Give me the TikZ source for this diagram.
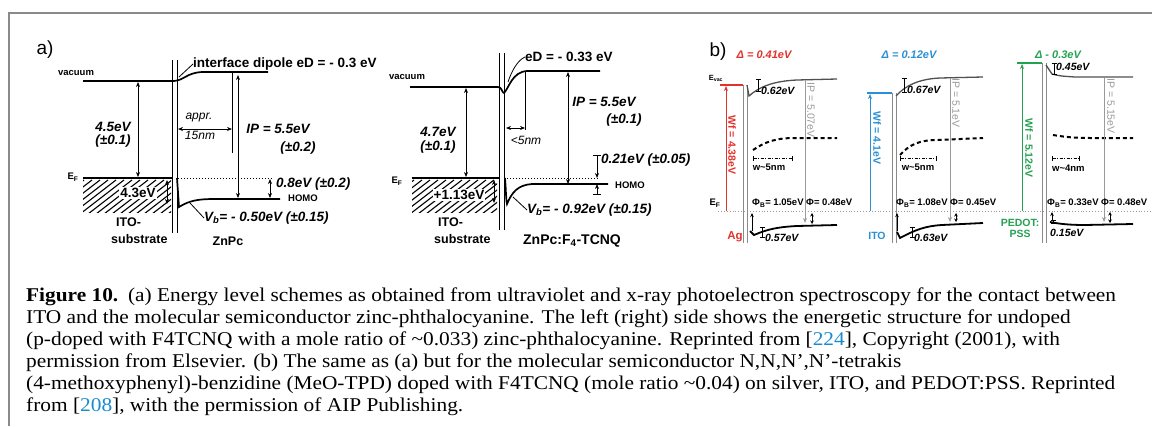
\documentclass[tikz,border=0pt]{standalone}
\usepackage{fontspec}
\setmainfont{Liberation Serif}
\setsansfont{Liberation Sans}
\newfontfamily\capfont[FakeStretch=1.095]{Liberation Serif}
\usepackage{tikz}
\usetikzlibrary{arrows.meta}
\definecolor{agred}{HTML}{E2322B}
\definecolor{itoblue}{HTML}{2B8FD3}
\definecolor{pedotgreen}{HTML}{25A152}
\definecolor{framegray}{HTML}{8A8A8A}
\definecolor{levelgray}{HTML}{505050}
\definecolor{ipgray}{HTML}{9A9A9A}
\definecolor{citeblue}{HTML}{1A8AD0}

\begin{document}
\begin{tikzpicture}[x=1pt, y=-1pt,
				val/.style={font=\sffamily\bfseries\itshape\fontsize{13.5}{14}\selectfont, inner sep=0pt},
				tag/.style={font=\sffamily\bfseries\fontsize{9.5}{10}\selectfont, inner sep=0pt},
				mat/.style={font=\sffamily\bfseries\fontsize{12.5}{17}\selectfont, inner sep=0pt, align=left},
				panel/.style={font=\sffamily\fontsize{19}{20}\selectfont, inner sep=0pt},
				small/.style={font=\sffamily\bfseries\itshape\fontsize{10.5}{11}\selectfont, inner sep=0pt},
				phi/.style={font=\sffamily\bfseries\fontsize{9.5}{10}\selectfont, inner sep=0pt},
				level/.style={line width=1.7pt},
				dimarrow/.style={<->, >={Stealth[length=5pt,width=4pt]}, line width=0.8pt},
				ibar/.style={{Bar[width=5pt]}-{Bar[width=5pt]}, line width=0.7pt},
				iface/.style={framegray, line width=0.8pt}
			]
			\useasboundingbox (0,0) rectangle (1152,426);
			\draw[framegray, line width=1.5pt] (9,426) -- (9,13) -- (1152,13);

			% (a) undoped ZnPc
			\node[panel] (pa) at (45,50) {a)};
			\node[tag] (vacA) at (76,73) {vacuum};
			\node[tag] (efA) at (73,177) {E\textsubscript{F}};
			\draw[iface, black] (172,60) -- (172,233);
			\draw[iface, black] (177,60) -- (177,233);
			\draw[level] (83,81) -- (174,81) .. controls (185,80) and (186,73) .. (202,72) -- (268,72);
			\draw[level] (83,178) -- (173,178);
			\begin{scope}
				\clip (83,179) rectangle (171,212);
				\foreach \x in {40,48,...,180}
					\draw[line width=1.1pt] (\x,214) -- ++(44,-34);
			\end{scope}
			\draw[dotted, line width=1pt] (178,178) -- (273,178);
			\draw[level] (177,178) -- (179,207) .. controls (190,200) and (200,199) .. (215,199) -- (280,199);
			\draw[dimarrow] (138,82) -- (138,177);
			\draw[dimarrow] (167,180) -- (167,204);
			\draw[line width=0.8pt] (232,73) -- (232,153);
			\draw[dimarrow] (178,129) -- (232,129);
			\draw[dimarrow] (238,75) -- (238,198);
			\draw[dimarrow] (270,179) -- (270,198);
			\node[val, anchor=west] (dipA) at (193,64) {\upshape interface dipole eD = - 0.3 eV};
			\draw[line width=0.8pt] (179,77) -- (dipA.west);
			\node[val] (wfA) at (113,127) {4.5eV};
			\node[val] (wfAe) at (113,141) {(±0.1)};
			\node[val, fill=white, inner sep=1pt] (bbA) at (138,193) {\upshape 4.3eV};
			\node[font=\sffamily\itshape\fontsize{12}{12}\selectfont, inner sep=0pt] (apprA) at (199,118) {appr.};
			\node[font=\sffamily\itshape\fontsize{12}{12}\selectfont, inner sep=0pt] (lenA) at (200,135) {15nm};
			\node[val] (ipA) at (278,129) {IP = 5.5eV};
			\node[val] (ipAe) at (298,148) {(±0.2)};
			\node[val, anchor=west] (homoA) at (276,184) {0.8eV (±0.2)};
			\node[tag, anchor=west] (hlA) at (288,198) {HOMO};
			\node[val, anchor=west] (vbA) at (204,218) {V\textsubscript{b}= - 0.50eV (±0.15)};
			\draw[line width=0.8pt] (190,203) -- (vbA.west);
			\node[mat, anchor=west] (itoA) at (111,231) {\hspace{5pt}ITO-\\substrate};
			\node[mat] (znA) at (228,241) {ZnPc};

			% (a) doped ZnPc:F4-TCNQ
			\node[tag] (vacB) at (407,77) {vacuum};
			\node[tag] (efB) at (397,181) {E\textsubscript{F}};
			\draw[iface, black] (499,53) -- (499,230);
			\draw[iface, black] (504,53) -- (504,230);
			\draw[level] (410,87) -- (498,87) .. controls (502,87) and (502,93) .. (504,93) .. controls (509,88) and (512,72) .. (527,71) -- (600,71);
			\draw[level] (412,178) -- (500,178);
			\begin{scope}
				\clip (412,179) rectangle (497,212);
				\foreach \x in {370,378,...,510}
					\draw[line width=1.1pt] (\x,214) -- ++(44,-34);
			\end{scope}
			\draw[dotted, line width=1pt] (507,178) -- (598,178);
			\draw[level] (505,178) .. controls (506,190) and (506,200) .. (507,204) .. controls (512,192) and (518,185) .. (532,184) -- (608,184);
			\draw[dimarrow] (466,88) -- (466,177);
			\draw[dimarrow] (494,180) -- (494,203);
			\draw[line width=0.8pt] (525,71) -- (525,130);
			\draw[dimarrow] (506,128) -- (525,128);
			\draw[dimarrow] (568,72) -- (568,184);
			\draw[line width=0.8pt] (593,155) -- (601,155);
			\draw[-{Stealth[length=5pt,width=4pt]}, line width=0.8pt] (597,155) -- (597,178);
			\draw[-{Stealth[length=5pt,width=4pt]}, line width=0.8pt] (597,194) -- (597,184);
			\draw[line width=0.8pt] (593,194) -- (601,194);
			\node[val, anchor=west] (dipB) at (525,57) {\upshape eD = - 0.33 eV};
			\draw[line width=0.8pt] (508,82) .. controls (512,70) and (518,60) .. (dipB.west);
			\node[val] (wfB) at (438,132) {4.7eV};
			\node[val] (wfBe) at (438,147) {(±0.1)};
			\node[val, fill=white, inner sep=1pt] (bbB) at (459,195) {\upshape +1.13eV};
			\node[font=\sffamily\itshape\fontsize{12}{12}\selectfont, inner sep=0pt] (lenB) at (526,140) {<5nm};
			\node[val] (ipB) at (604,102) {IP = 5.5eV};
			\node[val] (ipBe) at (624,120) {(±0.1)};
			\node[val, anchor=west] (homoB) at (601,160) {0.21eV (±0.05)};
			\node[tag, anchor=west] (hlB) at (615,185) {HOMO};
			\node[val, anchor=west] (vbB) at (527,210) {V\textsubscript{b}= - 0.92eV (±0.15)};
			\draw[line width=0.8pt] (513,197) -- (vbB.west);
			\node[mat, anchor=west] (itoB) at (434,231) {\hspace{4pt}ITO-\\substrate};
			\node[mat, font=\sffamily\bfseries\fontsize{14}{17}\selectfont] (znB) at (572,241) {ZnPc:F\textsubscript{4}-TCNQ};

			% (b) MeO-TPD on Ag, ITO, PEDOT:PSS
			\node[panel] (pb) at (718,52) {b)};
			\node[small, agred, font=\sffamily\bfseries\itshape\fontsize{11}{12}\selectfont] (dAg) at (764,55) {Δ = 0.41eV};
			\node[small, itoblue, font=\sffamily\bfseries\itshape\fontsize{11}{12}\selectfont] (dIto) at (909,55) {Δ = 0.12eV};
			\node[small, pedotgreen, font=\sffamily\bfseries\itshape\fontsize{11}{12}\selectfont] (dPed) at (1058,55) {Δ - 0.3eV};
			\node[phi, font=\sffamily\bfseries\fontsize{7.5}{8}\selectfont] (evac) at (716,78) {E\textsubscript{vac}};
			\node[phi] (efb) at (715,203) {E\textsubscript{F}};
			\draw[ipgray, dotted, line width=0.9pt] (718,211) -- (1152,211);

			% Ag
			\draw[iface] (743,85) -- (743,243);
			\draw[iface] (747,85) -- (747,243);
			\draw[agred, line width=1.5pt] (720,85) -- (743,85);
			\draw[levelgray, line width=1.3pt] (747,85) -- (749,96) .. controls (760,86) and (775,81) .. (797,80) -- (837,79);
			\draw[line width=2pt, dash pattern=on 4pt off 3pt] (753,150) .. controls (765,142) and (775,138) .. (795,138) -- (837,138);
			\draw[line width=1.8pt] (750,231) -- (754,235) .. controls (768,229) and (778,227) .. (797,226) -- (837,225);
			\draw[agred, -{Stealth[length=5pt,width=4pt]}, line width=0.9pt] (726,211) -- (726,86);
			\draw[ipgray, -{Stealth[length=5pt,width=4pt]}, line width=0.9pt] (805,80) -- (805,223);
			\draw[ibar] (758,79) -- (758,92);
			\draw[ibar] (762,227) -- (762,238);
			\draw[ibar, dash pattern=on 3pt off 1.5pt on 1pt off 1.5pt] (753,158) -- (793,158);
			\draw[-{Stealth[length=4pt,width=3.5pt]}, line width=0.9pt] (752,231) -- (752,213);
			\draw[<->, >={Stealth[length=3.5pt,width=3.5pt]}, line width=0.9pt] (812,213) -- (812,224);
			\node[phi, agred, rotate=-90, font=\sffamily\bfseries\fontsize{10.5}{11}\selectfont] (wfAg) at (732,145) {Wf = 4.38eV};
			\node[phi, ipgray, rotate=-90, font=\sffamily\fontsize{10.5}{11}\selectfont] (ipAg) at (811,110) {IP = 5.07eV};
			\node[small, anchor=west] (vAg) at (761,91) {0.62eV};
			\node[small, anchor=west] (hAg) at (765,238) {0.57eV};
			\node[phi] (wAg) at (769,167) {w\textasciitilde 5nm};
			\node[phi, anchor=west] (fAg) at (752,203) {Φ\textsubscript{B}= 1.05eV Φ= 0.48eV};
			\node[mat, agred, font=\sffamily\bfseries\fontsize{11.5}{12}\selectfont] (mAg) at (735,237) {Ag};

			% ITO
			\draw[iface] (892,93) -- (892,243);
			\draw[iface] (896,93) -- (896,243);
			\draw[itoblue, line width=1.5pt] (867,93) -- (892,93);
			\draw[levelgray, line width=1.3pt] (896,96) .. controls (905,86) and (918,79) .. (940,78) -- (983,77);
			\draw[line width=2pt, dash pattern=on 4pt off 3pt] (900,155) .. controls (910,144) and (920,140) .. (938,140) -- (983,138);
			\draw[line width=1.8pt] (897,232) -- (900,238) .. controls (915,230) and (925,226) .. (942,225) -- (983,223);
			\draw[itoblue, -{Stealth[length=5pt,width=4pt]}, line width=0.9pt] (870,211) -- (870,94);
			\draw[ipgray, -{Stealth[length=5pt,width=4pt]}, line width=0.9pt] (950,78) -- (950,222);
			\draw[ibar] (904,78) -- (904,93);
			\draw[ibar] (912,227) -- (912,238);
			\draw[ibar, dash pattern=on 3pt off 1.5pt on 1pt off 1.5pt] (900,158) -- (937,158);
			\draw[-{Stealth[length=4pt,width=3.5pt]}, line width=0.9pt] (897,231) -- (897,213);
			\draw[<->, >={Stealth[length=3.5pt,width=3.5pt]}, line width=0.9pt] (956,213) -- (956,222);
			\node[phi, itoblue, rotate=-90, font=\sffamily\bfseries\fontsize{10.5}{11}\selectfont] (wfIto) at (877,138) {Wf = 4.1eV};
			\node[phi, ipgray, rotate=-90, font=\sffamily\fontsize{10.5}{11}\selectfont] (ipIto) at (956,103) {IP = 5.1eV};
			\node[small, anchor=west] (vIto) at (907,90) {0.67eV};
			\node[small, anchor=west] (hIto) at (914,238) {0.63eV};
			\node[phi] (wIto) at (918,167) {w\textasciitilde 5nm};
			\node[phi, anchor=west] (fIto) at (896,203) {Φ\textsubscript{B}= 1.08eV Φ= 0.45eV};
			\node[mat, itoblue, font=\sffamily\bfseries\fontsize{10.5}{11}\selectfont] (mIto) at (877,236) {ITO};

			% PEDOT:PSS
			\draw[iface] (1042,63) -- (1042,243);
			\draw[iface] (1046,63) -- (1046,243);
			\draw[pedotgreen, line width=1.5pt] (1017,63) -- (1042,63);
			\draw[levelgray, line width=1.3pt] (1046,65) -- (1052,74) .. controls (1060,76) .. (1075,77) -- (1133,77);
			\draw[line width=2pt, dash pattern=on 4pt off 3pt] (1053,135) .. controls (1065,137) and (1075,138) .. (1090,138) -- (1133,138);
			\draw[line width=1.8pt] (1050,222) .. controls (1060,224) and (1070,225) .. (1085,225) -- (1133,224);
			\draw[pedotgreen, -{Stealth[length=5pt,width=4pt]}, line width=0.9pt] (1022,211) -- (1022,64);
			\draw[ipgray, -{Stealth[length=5pt,width=4pt]}, line width=0.9pt] (1104,78) -- (1104,222);
			\draw[ibar] (1054,63) -- (1054,75);
			\draw[ibar] (1053,220) -- (1053,224);
			\draw[ibar, dash pattern=on 3pt off 1.5pt on 1pt off 1.5pt] (1052,158) -- (1080,158);
			\draw[-{Stealth[length=4pt,width=3.5pt]}, line width=0.9pt] (1052,221) -- (1052,212);
			\draw[<->, >={Stealth[length=3.5pt,width=3.5pt]}, line width=0.9pt] (1110,212) -- (1110,223);
			\node[phi, pedotgreen, rotate=-90, font=\sffamily\bfseries\fontsize{10.5}{11}\selectfont] (wfPed) at (1029,148) {Wf = 5.12eV};
			\node[phi, ipgray, rotate=-90, font=\sffamily\fontsize{10.5}{11}\selectfont] (ipPed) at (1111,106) {IP = 5.15eV};
			\node[small, anchor=west] (vPed) at (1056,67) {0.45eV};
			\node[small, anchor=west] (hPed) at (1050,233) {0.15eV};
			\node[phi, anchor=west] (wPed) at (1052,168) {w\textasciitilde 4nm};
			\node[phi, anchor=west] (fPed) at (1047,203) {Φ\textsubscript{B}= 0.33eV Φ= 0.48eV};
			\node[mat, pedotgreen, align=center, font=\sffamily\bfseries\fontsize{10.5}{11}\selectfont] (mPed) at (1020,228) {PEDOT:\\PSS};

			% Caption
			\node[anchor=north west, inner sep=0pt, align=left, font=\capfont\fontsize{19.5}{22}\selectfont] (cap) at (26,288) {%
				\textbf{Figure 10.}\enspace (a) Energy level schemes as obtained from ultraviolet and x-ray photoelectron spectroscopy for the contact between\\
				ITO and the molecular semiconductor zinc-phthalocyanine. The left (right) side shows the energetic structure for undoped\\
				(p-doped with F4TCNQ with a mole ratio of \textasciitilde 0.033) zinc-phthalocyanine. Reprinted from [\textcolor{citeblue}{224}], Copyright (2001), with\\
				permission from Elsevier. (b) The same as (a) but for the molecular semiconductor N,N,N’,N’-tetrakis\\
				(4-methoxyphenyl)-benzidine (MeO-TPD) doped with F4TCNQ (mole ratio \textasciitilde 0.04) on silver, ITO, and PEDOT:PSS. Reprinted\\
				from [\textcolor{citeblue}{208}], with the permission of AIP Publishing.};
		\end{tikzpicture}
\end{document}
